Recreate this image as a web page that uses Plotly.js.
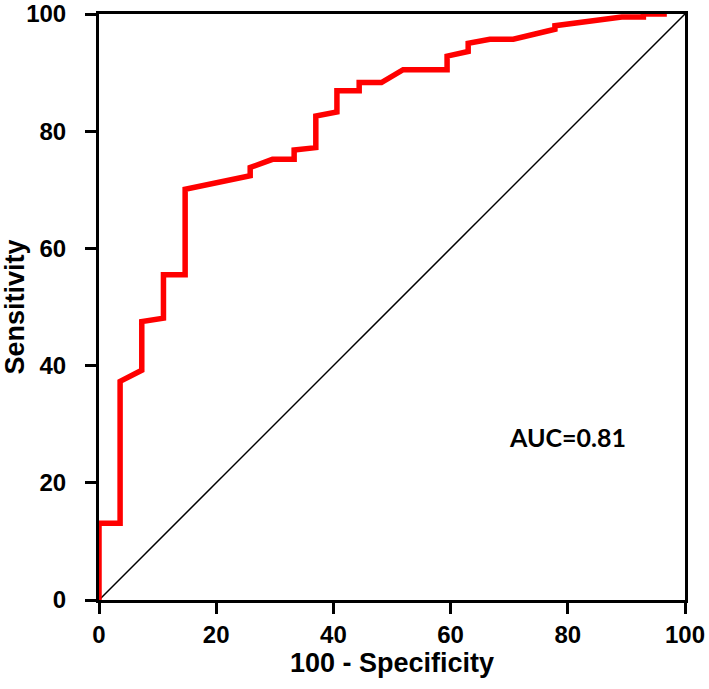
<!DOCTYPE html>
<html>
<head>
<meta charset="utf-8">
<script src="https://cdn.plot.ly/plotly-3.0.1.min.js"></script>
<style>
  html, body { margin: 0; padding: 0; background: #fff; }
  #roc { width: 709px; height: 689px; }
</style>
</head>
<body>
<div id="roc"></div>
<script>
// ROC curve points (100 - specificity, sensitivity)
const fpr = [0, 0, 3.6, 3.6, 7.3, 7.3, 11.0, 11.0, 14.7, 14.7, 25.8, 25.8, 29.6, 33.3, 33.3,
  37.0, 37.0, 40.6, 40.6, 44.4, 44.4, 48.2, 51.9, 59.4, 59.4, 63.0, 63.0, 66.7, 70.7,
  77.8, 77.8, 89.2, 92.9, 92.9, 96.9];
const tpr = [0, 13.1, 13.1, 37.3, 39.2, 47.5, 48.1, 55.5, 55.5, 70.1, 72.4, 73.8, 75.2, 75.2, 76.8,
  77.2, 82.6, 83.3, 86.9, 86.9, 88.3, 88.3, 90.5, 90.5, 92.8, 93.6, 95.0, 95.7, 95.7,
  97.4, 98.0, 99.5, 99.5, 100, 100];
const refLine = [0, 100];
const tickVals = [0, 20, 40, 60, 80, 100];
const aucLabel = 'AUC=0.81';

const axisFont = { family: 'Liberation Sans, Arial, sans-serif', size: 24, color: '#000', weight: 700 };
const titleFont = { family: 'Liberation Sans, Arial, sans-serif', size: 27, color: '#000', weight: 700 };

const traces = [
  {
    x: refLine, y: refLine,
    mode: 'lines', type: 'scatter',
    line: { color: '#000', width: 1.5 },
    hoverinfo: 'skip'
  },
  {
    x: fpr, y: tpr,
    mode: 'lines', type: 'scatter',
    line: { color: '#ff0000', width: 5.5 }
  }
];

const axisBase = {
  range: [0, 100],
  tickvals: tickVals,
  ticks: 'outside',
  ticklen: 11,
  tickwidth: 3,
  tickcolor: '#000',
  showline: true,
  linewidth: 3,
  linecolor: '#000',
  mirror: true,
  showgrid: false,
  zeroline: false,
  tickfont: axisFont,
  fixedrange: true
};

const layout = {
  width: 709,
  height: 689,
  margin: { l: 99, r: 24, t: 14, b: 89 },
  paper_bgcolor: '#fff',
  plot_bgcolor: '#fff',
  showlegend: false,
  xaxis: Object.assign({}, axisBase, {
    title: { text: '100 - Specificity', font: titleFont, standoff: 6 },
    ticklabelstandoff: 0
  }),
  yaxis: Object.assign({}, axisBase, {
    title: { text: 'Sensitivity', font: titleFont, standoff: 2 },
    ticklabelstandoff: 14
  }),
  annotations: [{
    x: 80, y: 27.8, xref: 'x', yref: 'y',
    text: aucLabel, showarrow: false,
    font: { family: 'Lato, Liberation Sans, sans-serif', size: 25, color: '#000', weight: 700 }
  }]
};

Plotly.newPlot('roc', traces, layout, { displayModeBar: false, staticPlot: true });
</script>
</body>
</html>
